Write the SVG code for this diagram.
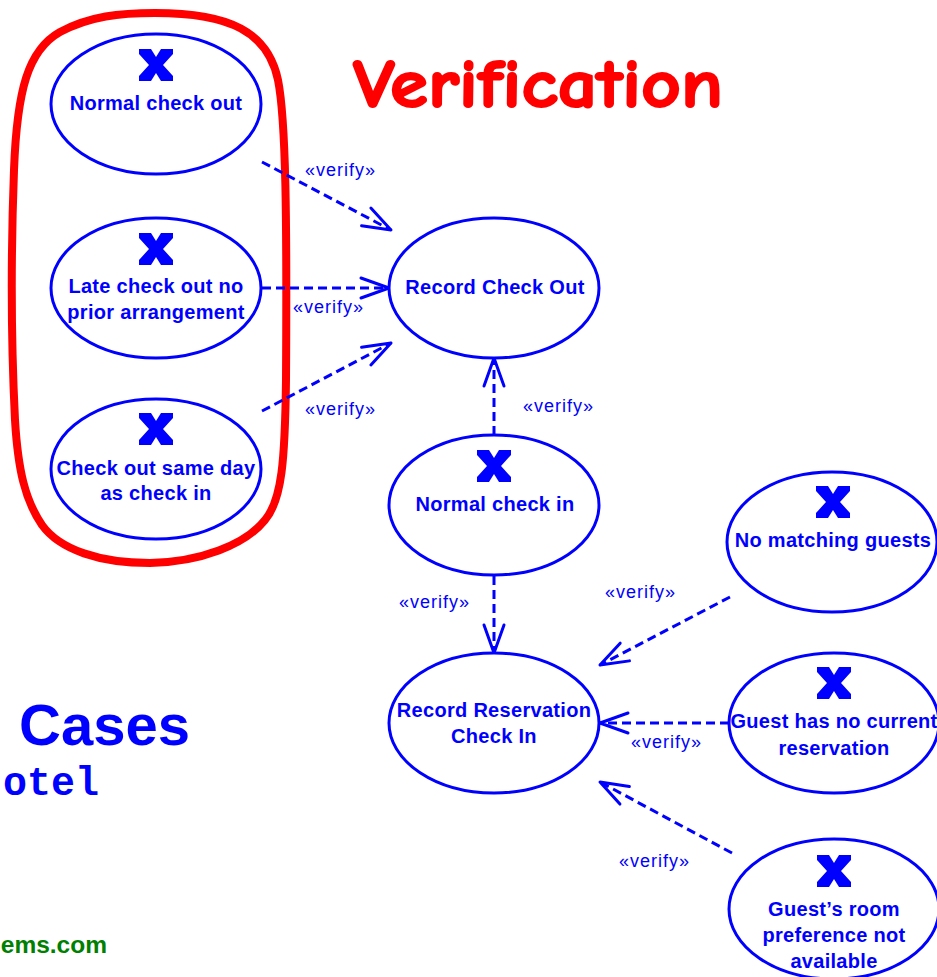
<svg xmlns="http://www.w3.org/2000/svg" width="937" height="977" viewBox="0 0 937 977">
<style>
.uc{fill:#ffffff;stroke:#0000ff;stroke-width:3}
.nt{font-family:"Liberation Sans",Arial,sans-serif;font-weight:bold;font-size:20px;letter-spacing:0.3px;fill:#0000ff;text-anchor:middle}
.vl{font-family:"Liberation Sans",Arial,sans-serif;font-size:18px;letter-spacing:1px;fill:#0000ff}
.cn{fill:none;stroke:#0000ff;stroke-width:3;stroke-dasharray:9 5}
.xi{fill:#0000ff}
</style>
<defs>
<marker id="arr" markerUnits="userSpaceOnUse" markerWidth="32" markerHeight="24" refX="28" refY="11" orient="auto" overflow="visible">
<path d="M0,1 L28,11 L0,21" fill="none" stroke="#0000ff" stroke-width="3" stroke-linejoin="round" stroke-linecap="round"/>
</marker>
<polygon id="xic" points="-17,-16 -5,-16 0,-8 5,-16 17,-16 17,-11 7,0 17,11 17,16 5,16 0,8 -5,16 -17,16 -17,11 -7,0 -17,-11"/>
</defs>
<rect width="937" height="977" fill="#ffffff"/>

<g id="titles">
<text x="353" y="107" font-family="'Comic Sans MS','Comic Neue','DejaVu Sans',sans-serif" font-weight="bold" font-size="68" fill="#ff0000" stroke="#ff0000" stroke-width="2" stroke-linejoin="round" textLength="370" lengthAdjust="spacingAndGlyphs">Verification</text>
<text x="190" y="745" font-family="'Liberation Sans',Arial,sans-serif" font-weight="bold" font-size="58" fill="#0000ff" text-anchor="end">Cases</text>
<text x="99" y="795" font-family="'Liberation Mono','Courier New',monospace" font-weight="bold" font-size="40" fill="#0000ff" text-anchor="end">otel</text>
<text x="107" y="953" font-family="'Liberation Sans',Arial,sans-serif" font-weight="bold" font-size="24.5" fill="#008000" text-anchor="end">ems.com</text>
</g>

<g id="group-outline">
<path d="M155,13 C230,13 268,32 278,80 C286,120 287,220 286,380 C285,460 282,500 265,520 C245,545 200,562 150,563 C100,563 60,550 42,525 C25,500 18,470 15,420 C11,340 11,250 14,170 C17,90 28,50 60,32 C90,16 120,13 155,13 Z" fill="none" stroke="#ff0000" stroke-width="8"/>
</g>

<g id="connectors">
<line class="cn" x1="262" y1="162" x2="391" y2="230" marker-end="url(#arr)"/>
<line class="cn" x1="262" y1="288" x2="389" y2="288" marker-end="url(#arr)"/>
<line class="cn" x1="262" y1="411" x2="391" y2="343" marker-end="url(#arr)"/>
<line class="cn" x1="494" y1="435" x2="494" y2="358" marker-end="url(#arr)"/>
<line class="cn" x1="494" y1="576" x2="494" y2="653" marker-end="url(#arr)"/>
<line class="cn" x1="730" y1="597" x2="600" y2="665" marker-end="url(#arr)"/>
<line class="cn" x1="729" y1="723" x2="600" y2="723" marker-end="url(#arr)"/>
<line class="cn" x1="732" y1="853" x2="600" y2="782" marker-end="url(#arr)"/>
<text class="vl" x="305" y="176">«verify»</text>
<text class="vl" x="293" y="313">«verify»</text>
<text class="vl" x="305" y="415">«verify»</text>
<text class="vl" x="523" y="412">«verify»</text>
<text class="vl" x="399" y="608">«verify»</text>
<text class="vl" x="605" y="598">«verify»</text>
<text class="vl" x="631" y="748">«verify»</text>
<text class="vl" x="619" y="867">«verify»</text>
</g>

<g id="normal-check-out">
<ellipse class="uc" cx="156" cy="104" rx="105" ry="70"/>
<use href="#xic" x="156" y="65" class="xi"/>
<text class="nt" x="156" y="110">Normal check out</text>
</g>

<g id="late-check-out">
<ellipse class="uc" cx="156" cy="288" rx="105" ry="70"/>
<use href="#xic" x="156" y="249" class="xi"/>
<text class="nt" x="156" y="293">Late check out no</text>
<text class="nt" x="156" y="319">prior arrangement</text>
</g>

<g id="check-out-same-day">
<ellipse class="uc" cx="156" cy="469" rx="105" ry="70"/>
<use href="#xic" x="156" y="429" class="xi"/>
<text class="nt" x="156" y="475">Check out same day</text>
<text class="nt" x="156" y="500">as check in</text>
</g>

<g id="record-check-out">
<ellipse class="uc" cx="494" cy="288" rx="105" ry="70"/>
<text class="nt" x="495" y="294">Record Check Out</text>
</g>

<g id="normal-check-in">
<ellipse class="uc" cx="494" cy="505" rx="105" ry="70"/>
<use href="#xic" x="494" y="466" class="xi"/>
<text class="nt" x="495" y="511">Normal check in</text>
</g>

<g id="record-reservation-check-in">
<ellipse class="uc" cx="494" cy="723" rx="105" ry="70"/>
<text class="nt" x="494" y="717">Record Reservation</text>
<text class="nt" x="494" y="743">Check In</text>
</g>

<g id="no-matching-guests">
<ellipse class="uc" cx="832" cy="542" rx="105" ry="70"/>
<use href="#xic" x="833" y="502" class="xi"/>
<text class="nt" x="833" y="547">No matching guests</text>
</g>

<g id="guest-no-reservation">
<ellipse class="uc" cx="834" cy="723" rx="105" ry="70"/>
<use href="#xic" x="834" y="683" class="xi"/>
<text class="nt" x="834" y="728">Guest has no current</text>
<text class="nt" x="834" y="755">reservation</text>
</g>

<g id="guest-room-preference">
<ellipse class="uc" cx="834" cy="909" rx="105" ry="70"/>
<use href="#xic" x="834" y="871" class="xi"/>
<text class="nt" x="834" y="916">Guest’s room</text>
<text class="nt" x="834" y="942">preference not</text>
<text class="nt" x="834" y="968">available</text>
</g>
</svg>
